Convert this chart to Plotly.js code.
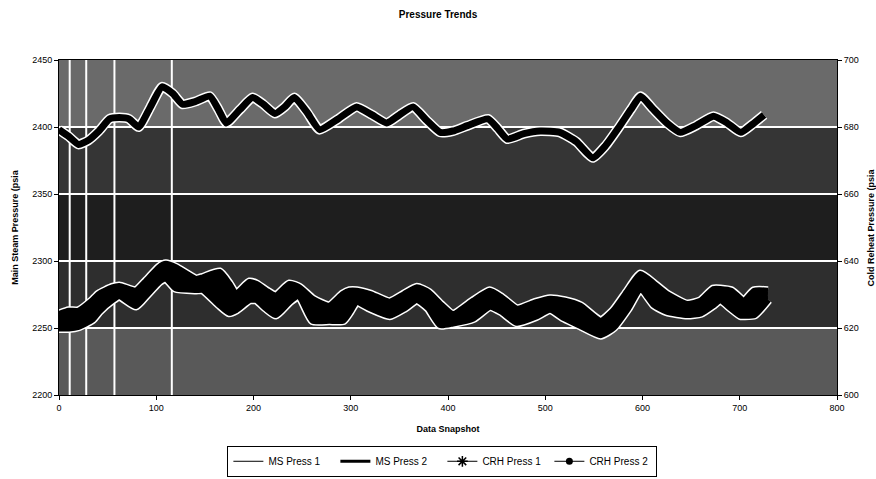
<!DOCTYPE html>
<html>
<head>
<meta charset="utf-8">
<script src="https://cdn.plot.ly/plotly-3.0.1.min.js"></script>
<style>html,body{margin:0;padding:0;background:#fff;}#chart{width:876px;height:479px;}</style>
</head>
<body>
<div id="chart"></div>
<script>
// ---- data ----
var msX = [0,10,20,30,41,52,62,72,82,94,106,117,127,140,155,164,172,186,199,210,222,232,242,255,268,287,306,322,337,350,364,378,392,405,420,441,451,461,478,495,515,532,549,562,575,588,598,610,625,639,655,673,687,701,713,725];
var msPress2 = [2398,2393,2387,2390,2397,2406,2407,2406,2400,2415,2430,2425,2417,2419,2423,2413,2403,2413,2422,2417,2410,2415,2422,2411,2398,2406,2415,2409,2403,2409,2415,2405,2396,2397,2401,2406,2399,2391,2395,2397,2396,2389,2377,2386,2399,2413,2423,2414,2403,2396,2401,2408,2403,2396,2402,2409];
var msPress1 = [2397,2392,2386,2389,2396,2405,2406,2405,2399,2414,2429,2424,2416,2418,2422,2412,2402,2412,2421,2416,2409,2414,2421,2410,2397,2405,2414,2408,2402,2408,2414,2404,2395,2396,2400,2405,2398,2390,2394,2396,2395,2388,2376,2385,2398,2412,2422,2413,2402,2395,2400,2407,2402,2395,2401,2408];

var crhX = [0,10,20,34,41,55,62,79,90,103,110,120,141,148,165,175,182,196,203,213,223,237,247,261,278,292,299,306,320,340,355,368,380,392,405,426,443,455,471,490,505,520,536,557,570,585,598,612,625,646,660,673,680,691,701,704,715,729];
var crhPress1 = [624,625,625,628,630,632,632.4,631,634,638,639,638,634.5,635,636.6,633,630,633.6,633,631,629.5,633,632,628.5,626.5,630,631,631,630,627.7,630,632,630.5,627,624,628,631,629,625.6,627.5,628.6,628,626.5,622,625,631,636,633,630,627,628,631.5,631.5,631,628.5,627.7,631,631];
var crhPress2 = [620,620,620.5,622.6,625,628.5,629.7,626.7,630,634,635,632,631.5,631.5,627,624.7,625.5,628.5,628.5,626,624,628,629.7,622.3,622.3,622.3,625,628,626,623.8,626,628.5,626,621,621.5,623,626.5,625,621.7,623.5,625.6,623,620.8,618,620.2,626,632,627,625,624,624.5,627,628.5,626,623.8,623.8,624,628.5];

var vlineX = [11, 28, 57, 116];
var seriesNames = ['MS Press 1', 'MS Press 2', 'CRH Press 1', 'CRH Press 2'];

var FONT = 'Liberation Sans, Arial, sans-serif';
function ln(color, width) { return {color: color, width: width, shape: 'spline', smoothing: 0.5}; }

var traces = [];
// main steam (left axis)
traces.push({x: msX, y: msPress2, type: 'scatter', mode: 'lines', line: ln('#ffffff', 10), showlegend: false, hoverinfo: 'skip'});
traces.push({x: msX, y: msPress2, type: 'scatter', mode: 'lines', line: ln('#000000', 7), showlegend: false});
traces.push({x: msX, y: msPress1, type: 'scatter', mode: 'lines', line: ln('#000000', 1.5), showlegend: false});
// cold reheat (right axis)
traces.push({x: crhX, y: crhPress1, yaxis: 'y2', type: 'scatter', mode: 'lines', line: ln('#ffffff', 10), showlegend: false, hoverinfo: 'skip'});
traces.push({x: crhX, y: crhPress2, yaxis: 'y2', type: 'scatter', mode: 'lines', line: ln('#ffffff', 10), showlegend: false, hoverinfo: 'skip'});
traces.push({x: crhX, y: crhPress2, yaxis: 'y2', type: 'scatter', mode: 'lines', line: ln('#000000', 7), showlegend: false});
traces.push({x: crhX, y: crhPress1, yaxis: 'y2', type: 'scatter', mode: 'lines', line: ln('#000000', 7), fill: 'tonexty', fillcolor: '#000000', showlegend: false});
// legend entries
traces.push({x: [null], y: [null], type: 'scatter', mode: 'lines', name: seriesNames[0], line: {color: '#000', width: 1}});
traces.push({x: [null], y: [null], type: 'scatter', mode: 'lines', name: seriesNames[1], line: {color: '#000', width: 3}});
traces.push({x: [null], y: [null], type: 'scatter', mode: 'lines+markers', name: seriesNames[2], line: {color: '#000', width: 1}, marker: {symbol: 'asterisk-open', size: 9, color: '#000', line: {color: '#000', width: 1.5}}});
traces.push({x: [null], y: [null], type: 'scatter', mode: 'lines+markers', name: seriesNames[3], line: {color: '#000', width: 1}, marker: {symbol: 'circle', size: 7, color: '#000'}});

var shapes = [];
// background tone bands (scan texture approximation)
var bandLo = [2200, 2250, 2300, 2350, 2400];
var bandHi = [2250, 2300, 2350, 2400, 2450];
var bandCol = ['#595959', '#2e2e2e', '#1e1e1e', '#353535', '#6a6a6a'];
bandLo.forEach(function (lo, i) {
  shapes.push({type: 'rect', xref: 'paper', yref: 'y', x0: 0, x1: 1, y0: lo, y1: bandHi[i], layer: 'below', line: {width: 0}, fillcolor: bandCol[i]});
});
vlineX.forEach(function (v) {
  shapes.push({type: 'line', xref: 'x', yref: 'paper', x0: v, x1: v, y0: 0, y1: 1, layer: 'below', line: {color: '#ffffff', width: 2}});
});

var layout = {
  width: 876, height: 479,
  margin: {l: 59, r: 39, t: 60, b: 84},
  paper_bgcolor: '#ffffff',
  plot_bgcolor: '#3a3a3a',
  font: {family: FONT, color: '#000', size: 9},
  title: {text: '<b>Pressure Trends</b>', font: {family: FONT, size: 10, color: '#000'}, x: 0.5, xanchor: 'center', y: 0.969, yanchor: 'middle'},
  showlegend: true,
  legend: {orientation: 'h', traceorder: 'normal', x: 0.505, xanchor: 'center', xref: 'container', yref: 'container', y: 0.037, yanchor: 'middle',
    bgcolor: '#ffffff', bordercolor: '#000', borderwidth: 1, font: {family: FONT, size: 10, color: '#000'},
    entrywidth: 62, entrywidthmode: 'pixels', tracegroupgap: 0},
  xaxis: {
    range: [0, 800], dtick: 100, tick0: 0, showgrid: false, zeroline: false,
    showline: true, linecolor: '#000', linewidth: 1, mirror: true,
    ticks: 'outside', ticklen: 4, tickcolor: '#000',
    tickfont: {family: FONT, size: 9, color: '#000'},
    title: {text: '<b>Data Snapshot</b>', font: {family: FONT, size: 9, color: '#000'}, standoff: 13}
  },
  yaxis: {
    range: [2200, 2450], dtick: 50, tick0: 2200, showgrid: true, gridcolor: '#ffffff', gridwidth: 2, zeroline: false,
    showline: true, linecolor: '#000', linewidth: 1,
    ticks: 'outside', ticklen: 4, tickcolor: '#000',
    tickfont: {family: FONT, size: 9, color: '#000'},
    title: {text: '<b>Main Steam Pressure (psia</b>', font: {family: FONT, size: 9, color: '#000'}, standoff: 12}
  },
  yaxis2: {
    overlaying: 'y', side: 'right', range: [600, 700], dtick: 20, tick0: 600, showgrid: false, zeroline: false,
    showline: true, linecolor: '#000', linewidth: 1,
    ticks: 'outside', ticklen: 4, tickcolor: '#000',
    tickfont: {family: FONT, size: 9, color: '#000'}
  },
  annotations: [{
    text: '<b>Cold Reheat Pressure (psia</b>', xref: 'paper', yref: 'paper', x: 1 + (870 - 837) / 778, y: 0.5,
    xanchor: 'center', yanchor: 'middle', textangle: -90, showarrow: false, font: {family: FONT, size: 9, color: '#000'}
  }],
  shapes: shapes
};

Plotly.newPlot('chart', traces, layout, {displayModeBar: false, staticPlot: true});
</script>
</body>
</html>
